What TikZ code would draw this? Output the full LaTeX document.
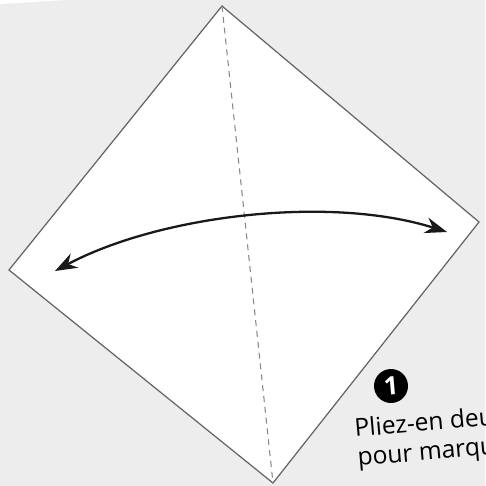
\documentclass[tikz,border=0pt]{standalone}
\usepackage{fontspec}
\setmainfont{Open Sans}
\usetikzlibrary{arrows.meta,positioning}
\definecolor{bggray}{RGB}{237,237,237}
\definecolor{edgegray}{RGB}{100,100,100}
\definecolor{creasegray}{RGB}{135,135,135}

\begin{document}
\begin{tikzpicture}[x=0.02cm,y=-0.02cm,
  paper/.style={draw=edgegray,line width=0.7pt,fill=white},
  crease/.style={draw=creasegray,line width=0.6pt,dash pattern=on 3.4pt off 2.8pt},
  foldarrow/.style={line width=1.3pt,black!90,
    {Stealth[length=0.44cm,width=0.32cm]}-{Stealth[length=0.44cm,width=0.32cm]}},
  stepnum/.style={circle,fill=black,text=white,font=\bfseries\Large,inner sep=0pt,minimum size=0.68cm},
  caption/.style={font=\fontsize{14}{17}\selectfont,anchor=base west,inner sep=0pt,rotate=5}
]
  \useasboundingbox (0,0) rectangle (485,486);
  \clip (0,0) rectangle (485,486);
  \fill[bggray] (0,0) rectangle (485,486);
  \fill[white] (0,0) -- (66,0) -- (0,4) -- cycle;

  % square sheet
  \coordinate (top) at (222,6);
  \coordinate (right) at (479,222);
  \coordinate (bottom) at (273,483);
  \coordinate (left) at (9,270);
  \draw[paper] (top) -- (right) -- (bottom) -- (left) -- cycle;

  % crease
  \draw[crease] (top) -- (bottom);

  % fold arrow
  \coordinate (arrL) at (55,271);
  \coordinate (arrR) at (447,232);
  \draw[foldarrow] (arrL) .. controls (160,215) and (330,195) .. (arrR);

  % step
  \node[stepnum,rotate=5] (num) at (391,386) {1};
  \node[caption] (cap1) at (355,437) {Pliez-en deu};
  \node[caption] (cap2) at (358,466) {pour marqu};
\end{tikzpicture}
\end{document}
